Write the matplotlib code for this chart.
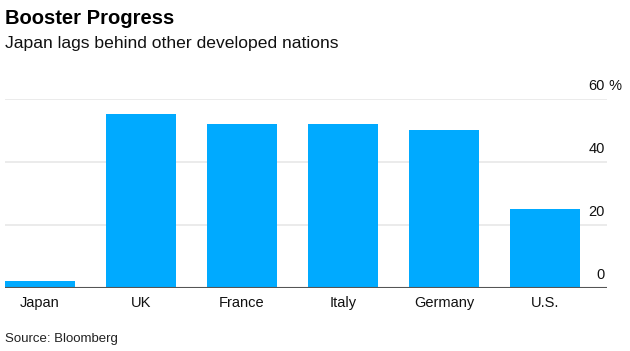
import matplotlib
matplotlib.use("Agg")
import matplotlib.pyplot as plt

categories = ["Japan", "UK", "France", "Italy", "Germany", "U.S."]
values = [2.2, 55.2, 52.1, 52.1, 50.2, 25.1]
yticks = [0, 20, 40, 60]
ytick_labels = ["0", "20", "40", "60"]

W, H = 630, 351
fig = plt.figure(figsize=(W / 100, H / 100), dpi=100)
plt.rcParams['font.family'] = ['Liberation Sans', 'DejaVu Sans']

# axes: x 5..607 px, y 99..288 px (from top)
left, right, top, bottom = 5, 607, 99, 288
ax = fig.add_axes([left / W, 1 - bottom / H, (right - left) / W, (bottom - top) / H])

x = list(range(len(categories)))
ax.bar(x, values, width=0.69, color="#00aaff", zorder=2)
ax.set_xlim(-0.347, 5.614)
ax.set_ylim(0, 60)

for t in yticks[1:]:
    ax.axhline(t, color="#e8e8e8", lw=1.2, zorder=1)
ax.axhline(0, color="#555555", lw=1.5, zorder=3)

for s in ax.spines.values():
    s.set_visible(False)
ax.set_yticks([])
ax.set_xticks(x)
ax.set_xticklabels(categories, fontsize=10.5, color="#111111")
ax.tick_params(axis="x", length=0, pad=6)

# right-side value labels above gridlines
for t, lab in zip(yticks, ytick_labels):
    ax.annotate(lab, xy=(1, t), xycoords=("axes fraction", "data"),
                xytext=(-2, 6), textcoords="offset pixels",
                ha="right", va="bottom", fontsize=10.5, color="#111111")
    if t == yticks[-1]:
        ax.annotate(" %", xy=(1, t), xycoords=("axes fraction", "data"),
                    xytext=(-2, 6), textcoords="offset pixels",
                    ha="left", va="bottom", fontsize=10.5, color="#111111",
                    annotation_clip=False)

fig.text(5 / W, 1 - 9 / H, "Booster Progress", fontsize=14.5, fontweight="bold",
         ha="left", va="top", color="#000000")
fig.text(5 / W, 1 - 36 / H, "Japan lags behind other developed nations", fontsize=12.6,
         ha="left", va="top", color="#111111")
fig.text(5 / W, 1 - 339 / H, "Source: Bloomberg", fontsize=9.5,
         ha="left", va="center", color="#222222")

fig.savefig("out.png", dpi=100)
